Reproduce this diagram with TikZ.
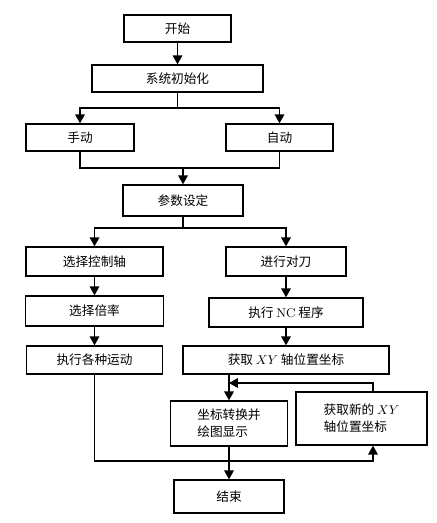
\documentclass[tikz,border=0pt]{standalone}
\usepackage{fontspec}
\usepackage{tikz}
\usetikzlibrary{arrows.meta,positioning}
\newfontfamily\cjk{Noto Sans CJK SC}

\begin{document}
\begin{tikzpicture}[x=0.025cm, y=-0.025cm,
  fnode/.style={draw, line width=1pt, font=\cjk\fontsize{9}{12}\selectfont, align=center, inner sep=2pt},
  farrow/.style={-{Triangle[length=2.2mm,width=2.4mm]}, line width=0.8pt},
  fline/.style={line width=0.8pt}]
\useasboundingbox (0,0) rectangle (436,523);
% Top part
\node[fnode, minimum width=2.675cm, minimum height=0.675cm] (start) at (177.5,28.5) {开始};
\node[fnode, minimum width=4.275cm, minimum height=0.675cm] (init) at (177.5,78.5) {系统初始化};
\node[fnode, minimum width=2.7cm, minimum height=0.675cm] (manual) at (80,137.5) {手动};
\node[fnode, minimum width=2.675cm, minimum height=0.675cm] (auto) at (279.5,137.5) {自动};
\node[fnode, minimum width=3.0cm, minimum height=0.775cm] (param) at (183,200.5) {参数设定};
% Manual branch
\node[fnode, minimum width=3.425cm, minimum height=0.725cm] (axis) at (94.5,261.5) {选择控制轴};
\node[fnode, minimum width=3.45cm, minimum height=0.75cm] (rate) at (94.5,311) {选择倍率};
\node[fnode, minimum width=3.4cm, minimum height=0.7cm] (motion) at (94.5,360) {执行各种运动};
% Auto branch
\node[fnode, minimum width=3.0cm, minimum height=0.725cm] (tool) at (286,261.5) {进行对刀};
\node[fnode, minimum width=3.85cm, minimum height=0.725cm] (nc) at (286,312.5) {执行 \textrm{NC} 程序};
\node[fnode, minimum width=5.15cm, minimum height=0.7cm] (getxy) at (286,360) {获取 $XY$ 轴位置坐标};
\node[fnode, align=left, minimum width=2.925cm, minimum height=1.125cm] (conv) at (229,423.5) {坐标转换并\\绘图显示};
\node[fnode, align=left, minimum width=3.275cm, minimum height=1.325cm] (newxy) at (361.5,418.5) {获取新的 $XY$\\轴位置坐标};
\node[fnode, minimum width=2.75cm, minimum height=0.825cm] (finish) at (229,496.5) {结束};
% Branch and merge points
\coordinate (br1) at (177.5,108);
\coordinate (mrg) at (183,168);
\coordinate (br2) at (183,228);
\coordinate (jn) at (229,383);
\coordinate (ret) at (373,461);
% Connectors
\draw[farrow] (start) -- (init);
\draw[fline] (init.south) -- (br1);
\draw[farrow] (br1) -| (manual.north);
\draw[farrow] (br1) -| (auto.north);
\draw[fline] (manual.south) |- (mrg) -| (auto.south);
\draw[farrow] (mrg) -- (param.north);
\draw[fline] (param.south) -- (br2);
\draw[farrow] (br2) -| (axis.north);
\draw[farrow] (br2) -| (tool.north);
\draw[farrow] (axis) -- (rate);
\draw[farrow] (rate) -- (motion);
\draw[farrow] (tool) -- (nc);
\draw[farrow] (nc) -- (getxy);
\draw[farrow] (getxy.south -| conv.north) -- (conv.north);
\draw[farrow] (newxy.north -| ret) |- (jn);
\draw[farrow] (motion.south) |- (ret) -- (newxy.south -| ret);
\draw[farrow] (conv.south) -- (finish.north);
\end{tikzpicture}
\end{document}
